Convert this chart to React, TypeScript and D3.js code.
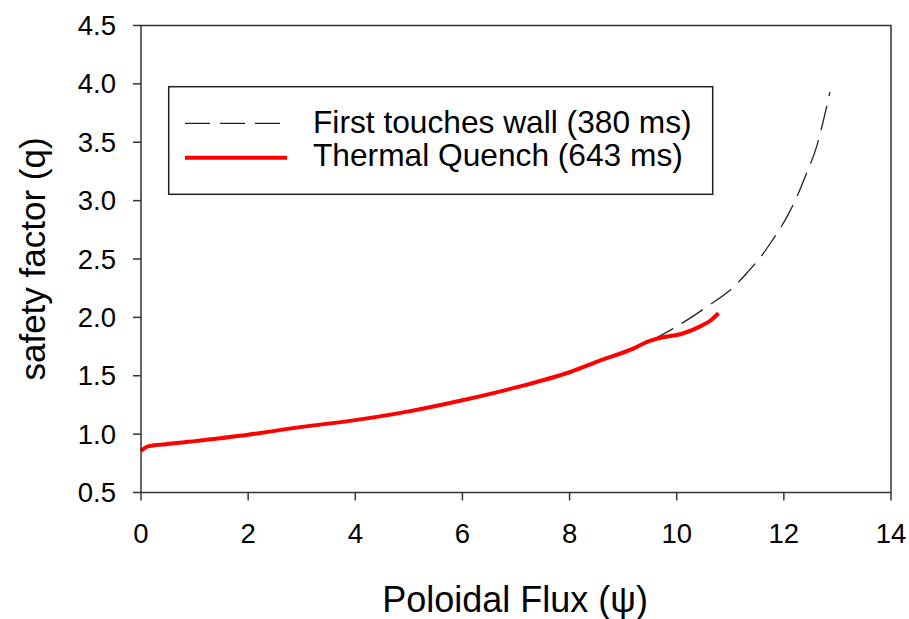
import React from "react";
import * as d3 from "d3";

// Thermal Quench profile (643 ms): poloidal flux vs safety factor
const quenchPsi = [0, 0.1, 0.25, 0.5, 1.0, 2.0, 3.0, 4.0, 5.0, 6.0, 7.0, 8.0, 8.6, 9.2, 9.45, 9.7, 10.1, 10.45, 10.65, 10.78];
const quenchQ = [0.855, 0.89, 0.905, 0.915, 0.94, 0.995, 1.062, 1.12, 1.195, 1.29, 1.4, 1.53, 1.635, 1.735, 1.79, 1.825, 1.86, 1.925, 1.98, 2.035];

// First touches wall profile (380 ms)
const wallPsi = [0, 0.1, 0.25, 0.5, 1.0, 2.0, 3.0, 4.0, 5.0, 6.0, 7.0, 8.0, 8.6, 9.2, 9.6, 9.9, 10.37, 10.56, 11.06, 11.31, 11.62, 11.77, 12.08, 12.24, 12.42, 12.61, 12.74, 12.86];
const wallQ = [0.855, 0.89, 0.905, 0.915, 0.94, 0.995, 1.062, 1.12, 1.195, 1.29, 1.4, 1.53, 1.635, 1.74, 1.82, 1.895, 2.03, 2.09, 2.26, 2.38, 2.55, 2.65, 2.88, 3.03, 3.23, 3.46, 3.69, 3.93];

const xTicks = [0, 2, 4, 6, 8, 10, 12, 14];
const yTicks = [0.5, 1.0, 1.5, 2.0, 2.5, 3.0, 3.5, 4.0, 4.5];

const legendLabels = ["First touches wall (380 ms)", "Thermal Quench (643 ms)"];

const W = 909;
const H = 619;
const left = 141;
const right = 891;
const top = 25.5;
const bottom = 492.5;
const font = "'Liberation Sans', Arial, sans-serif";

export default function App() {
  const x = d3.scaleLinear().domain([0, 14]).range([left, right]);
  const y = d3.scaleLinear().domain([0.5, 4.5]).range([bottom, top]);

  const line = d3
    .line<[number, number]>()
    .x((d) => x(d[0]))
    .y((d) => y(d[1]))
    .curve(d3.curveMonotoneX);

  const quench = line(quenchPsi.map((p, i) => [p, quenchQ[i]] as [number, number])) || "";
  const wall = line(wallPsi.map((p, i) => [p, wallQ[i]] as [number, number])) || "";

  return (
    <svg
      width={W}
      height={H}
      style={{ position: "absolute", left: 0, top: 0, background: "#fff" }}
      fontFamily={font}
    >
      <rect x={0} y={0} width={W} height={H} fill="#fff" />

      {/* curves */}
      <path d={wall} fill="none" stroke="#222" strokeWidth={1.3} strokeDasharray="25 10" />
      <path d={quench} fill="none" stroke="#ff0000" strokeWidth={4} strokeLinejoin="round" />

      {/* frame */}
      <rect x={left} y={top} width={right - left} height={bottom - top} fill="none" stroke="#333" strokeWidth={1.5} />

      {/* x axis ticks */}
      {xTicks.map((t) => (
        <g key={"x" + t}>
          <line x1={x(t)} x2={x(t)} y1={bottom} y2={bottom + 8} stroke="#333" strokeWidth={1.5} />
          <text x={x(t)} y={543} fontSize={27.5} textAnchor="middle" fill="#000">
            {t}
          </text>
        </g>
      ))}

      {/* y axis ticks */}
      {yTicks.map((t) => (
        <g key={"y" + t}>
          <line x1={left - 8} x2={left} y1={y(t)} y2={y(t)} stroke="#333" strokeWidth={1.5} />
          <text x={116} y={y(t) + 9.5} fontSize={27.5} textAnchor="end" fill="#000">
            {t.toFixed(1)}
          </text>
        </g>
      ))}

      {/* axis titles */}
      <text x={(left + right) / 2 - 1} y={612} fontSize={36} textAnchor="middle" fill="#000">
        Poloidal Flux (ψ)
      </text>
      <text
        transform={`translate(45, ${(top + bottom) / 2}) rotate(-90)`}
        fontSize={35}
        textAnchor="middle"
        fill="#000"
      >
        safety factor (q)
      </text>

      {/* legend */}
      <rect x={168.7} y={86.7} width={544} height={107.6} fill="#fff" stroke="#222" strokeWidth={1.5} />
      <line x1={185} x2={287} y1={123.3} y2={123.3} stroke="#222" strokeWidth={1.3} strokeDasharray="25 10" />
      <line x1={185} x2={287} y1={157.7} y2={157.7} stroke="#ff0000" strokeWidth={4} />
      <text x={313} y={133.3} fontSize={31.7} fill="#000">
        {legendLabels[0]}
      </text>
      <text x={313} y={166} fontSize={31.7} fill="#000">
        {legendLabels[1]}
      </text>
    </svg>
  );
}
